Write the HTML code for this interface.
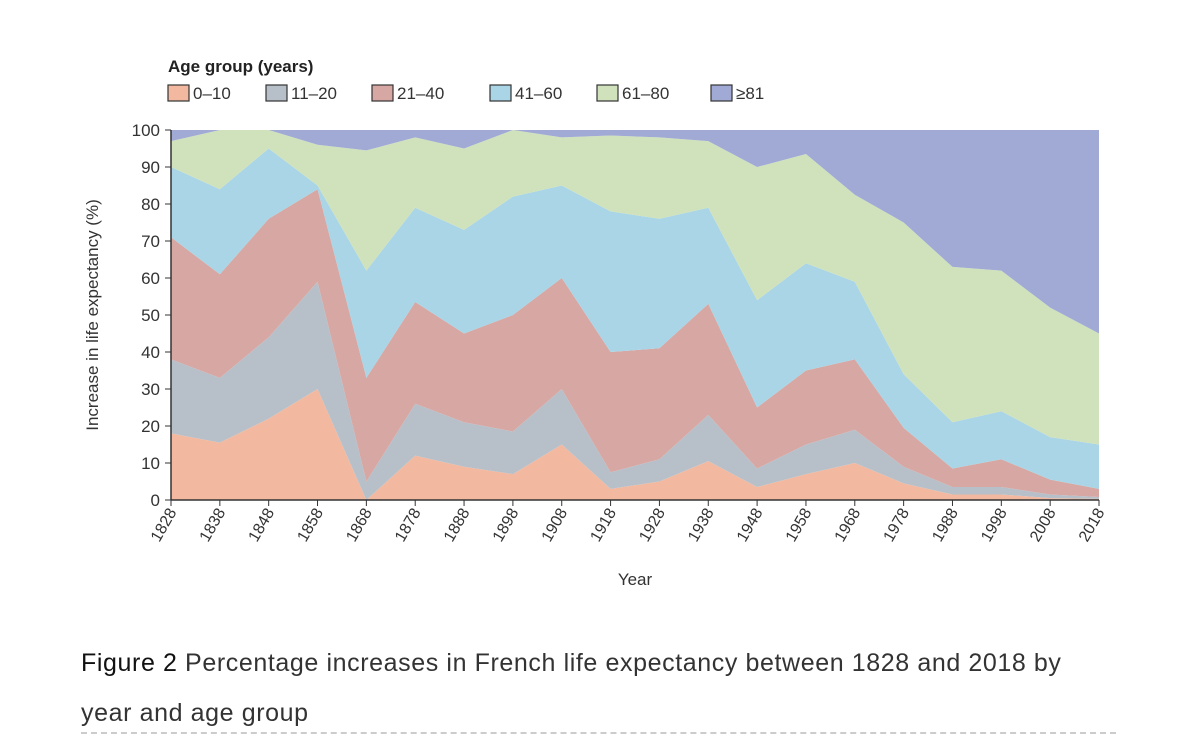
<!DOCTYPE html>
<html><head><meta charset="utf-8"><style>
body{margin:0;background:#fff;width:1196px;height:738px;overflow:hidden;font-family:"Liberation Sans",sans-serif}
svg text{font-family:"Liberation Sans",sans-serif}
.cap{position:absolute;left:81px;top:638px;font-size:25px;color:#333;line-height:50px;width:1010px;letter-spacing:0.6px}
.cap b{font-weight:normal;color:#111}
.dash{position:absolute;left:81px;top:732px;width:1035px;border-top:2px dashed #ccc}
</style></head><body>
<svg id="chart" width="1196" height="630" style="position:absolute;left:0;top:0"></svg>
<div class="cap"><b>Figure 2</b> Percentage increases in French life expectancy between 1828 and 2018 by year and age group</div>
<div class="dash"></div>
<script>
const years=[1828,1838,1848,1858,1868,1878,1888,1898,1908,1918,1928,1938,1948,1958,1968,1978,1988,1998,2008,2018];
const groups=["0–10","11–20","21–40","41–60","61–80","≥81"];
const s0_10=[18,15.5,22,30,0,12,9,7,15,3,5,10.5,3.5,7,10,4.5,1.5,1.5,0.5,0.3];
const s11_20=[20,17.5,22,29,5,14,12,11.5,15,4.5,6,12.5,5,8,9,4.5,2,2,1,0.5];
const s21_40=[33,28,32,25,28,27.5,24,31.5,30,32.5,30,30,16.5,20,19,10.5,5,7.5,4,2.2];
const s41_60=[19,23,19,1,29,25.5,28,32,25,38,35,26,29,29,21,14.5,12.5,13,11.5,12];
const s61_80=[7,16,5,11,32.5,19,22,18,13,20.5,22,18,36,29.5,23.5,41,42,38,35,30];
const s81=[3,0,0,5,5.5,2,5,0,2,1.5,2,3,10,6.5,17.5,25,37,38,48,55];
const yTicks=[0,10,20,30,40,50,60,70,80,90,100];
const series=[s0_10,s11_20,s21_40,s41_60,s61_80,s81];
const colors=["#f2b9a0","#b7c0c9","#d6a7a3","#a9d5e6","#d0e2bc","#a1aad4"];
const names=["area-0-10","area-11-20","area-21-40","area-41-60","area-61-80","area-81-plus"];
const svg=document.getElementById('chart');const NS="http://www.w3.org/2000/svg";
const X=y=>171+(y-1828)/(2018-1828)*(1099-171);
const Y=v=>500-v*3.7;
function el(t,a,p){const e=document.createElementNS(NS,t);for(const k in a)e.setAttribute(k,a[k]);(p||svg).appendChild(e);return e;}
let base=years.map(()=>0);
series.forEach((s,i)=>{
 const top=base.map((b,j)=>Math.min(100,b+s[j]));
 let d="M"+years.map((y,j)=>X(y)+","+Y(top[j])).join("L");
 for(let j=years.length-1;j>=0;j--)d+="L"+X(years[j])+","+Y(base[j]);
 const p=el('path',{d:d+"Z",fill:colors[i]});
 
 
 base=top;
});
const ax=el('line',{x1:171,y1:500,x2:1099,y2:500,stroke:'#333','stroke-width':1.5});

const ay=el('line',{x1:171,y1:130,x2:171,y2:500,stroke:'#333','stroke-width':1.5});

yTicks.forEach(v=>{
 el('line',{x1:165,x2:171,y1:Y(v),y2:Y(v),stroke:'#333'});
 const t=el('text',{x:160,y:Y(v)+6,'text-anchor':'end','font-size':17,fill:'#333'});t.textContent=v;
 
});
years.forEach(y=>{
 el('line',{x1:X(y),x2:X(y),y1:500,y2:506,stroke:'#333'});
 const t=el('text',{x:X(y)+6,y:512,'text-anchor':'end','font-size':16,fill:'#333',transform:`rotate(-60 ${X(y)+6} 512)`});t.textContent=y;
 
});
let t=el('text',{x:635,y:585,'text-anchor':'middle','font-size':17,fill:'#333'});t.textContent="Year";

t=el('text',{x:98,y:315,'text-anchor':'middle','font-size':17,fill:'#333',transform:'rotate(-90 98 315)'});t.textContent="Increase in life expectancy (%)";

t=el('text',{x:168,y:72,'font-size':17,'font-weight':'bold',fill:'#222'});t.textContent="Age group (years)";

const lx=[168,266,372,490,597,711];
groups.forEach((g,i)=>{
 const r=el('rect',{x:lx[i],y:85,width:21,height:16,fill:colors[i],stroke:'#333','stroke-width':1.2});
 
 const tt=el('text',{x:lx[i]+25,y:99,'font-size':17,fill:'#333'});tt.textContent=g;
 
});
</script>
</body></html>
